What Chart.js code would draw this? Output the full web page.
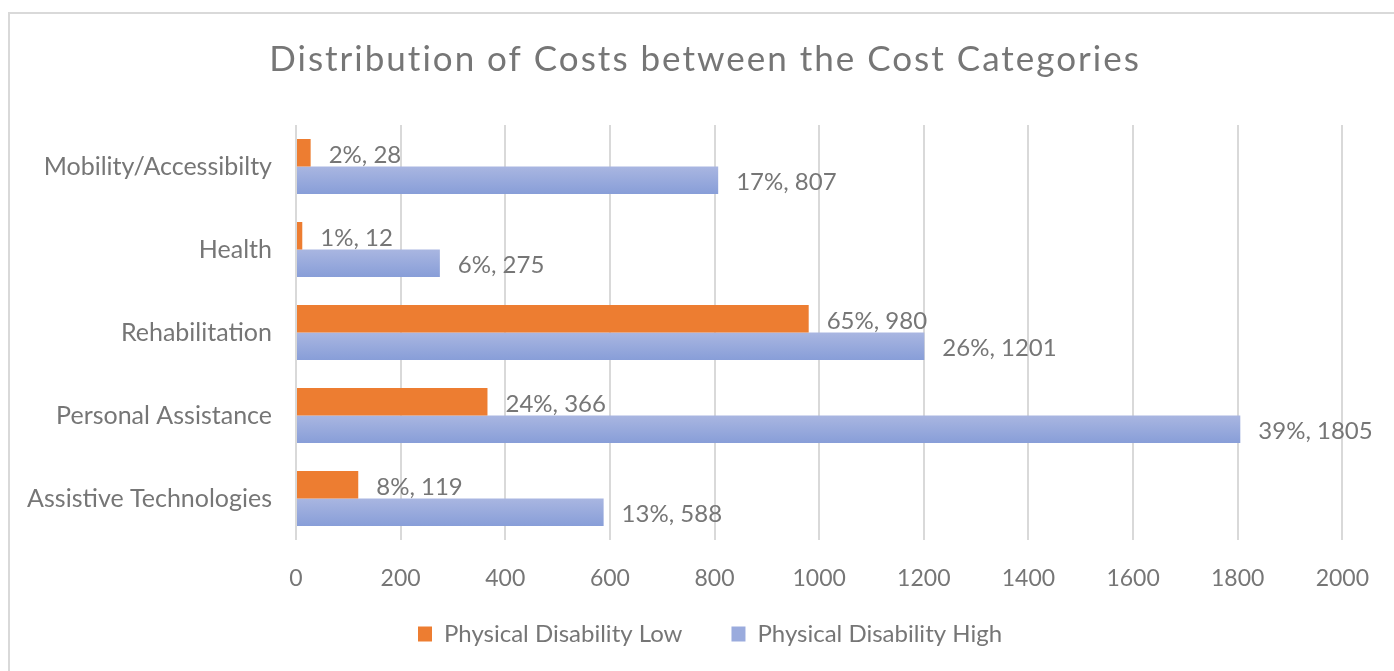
<!DOCTYPE html>
<html>
<head>
<meta charset="utf-8">
<script src="https://cdn.jsdelivr.net/npm/chart.js@4.4.1/dist/chart.umd.min.js"></script>
<style>
  html, body { margin: 0; padding: 0; background: #fff; }
  #wrap { position: relative; width: 1394px; height: 671px; }
  #frame { position: absolute; left: 8px; top: 12px; right: 0; bottom: 0; border-top: 2px solid #d9d9d9; border-left: 2px solid #d9d9d9; }
  canvas { position: absolute; left: 0; top: 0; }
</style>
</head>
<body>
<div id="wrap">
  <div id="frame"></div>
  <canvas id="c" width="1394" height="671"></canvas>
</div>
<script>
const chartTitle = 'Distribution of Costs between the Cost Categories';
const categories = ['Mobility/Accessibilty', 'Health', 'Rehabilitation', 'Personal Assistance', 'Assistive Technologies'];
const lowValues = [28, 12, 980, 366, 119];
const lowPercents = [2, 1, 65, 24, 8];
const highValues = [807, 275, 1201, 1805, 588];
const highPercents = [17, 6, 26, 39, 13];
const seriesNames = ['Physical Disability Low', 'Physical Disability High'];
const xTicks = [0, 200, 400, 600, 800, 1000, 1200, 1400, 1600, 1800, 2000];

const TEXT = '#767676';
const FONT = 'Lato';
const CAT_PCT = 0.66;

function blueGradient(ctx) {
  const chart = ctx.chart;
  const y = chart.scales && chart.scales.y;
  if (!y || !chart.chartArea || ctx.dataIndex === undefined) return '#9aabdd';
  const center = y.getPixelForValue(ctx.dataIndex);
  const band = y.height / categories.length;
  const barH = band * CAT_PCT / 2;
  const g = chart.ctx.createLinearGradient(0, center, 0, center + barH);
  g.addColorStop(0, '#a9b6e1');
  g.addColorStop(1, '#889ed8');
  return g;
}

const labelPlugin = {
  id: 'barLabels',
  afterDatasetsDraw(chart) {
    const ctx = chart.ctx;
    ctx.save();
    ctx.font = '24px ' + FONT;
    ctx.fillStyle = TEXT;
    ctx.textBaseline = 'middle';
    ctx.textAlign = 'left';
    const pcts = [lowPercents, highPercents];
    chart.data.datasets.forEach((ds, di) => {
      const meta = chart.getDatasetMeta(di);
      meta.data.forEach((bar, i) => {
        ctx.fillText(pcts[di][i] + '%, ' + ds.data[i], bar.x + 18, bar.y + 2);
      });
    });
    ctx.restore();
  }
};

const titlePlugin = {
  id: 'wideTitle',
  afterDraw(chart) {
    const ctx = chart.ctx;
    ctx.save();
    ctx.font = '35px ' + FONT;
    try { ctx.letterSpacing = '2px'; } catch (e) {}
    ctx.fillStyle = TEXT;
    ctx.textBaseline = 'middle';
    ctx.textAlign = 'center';
    ctx.fillText(chartTitle, 705, 60);
    ctx.restore();
  }
};

const legendPlacer = {
  id: 'legendPlacer',
  afterLayout(chart) {
    const lg = chart.legend;
    if (!lg) return;
    const h = lg.height;
    lg.left = 72;
    lg.right = 1348;
    lg.top = 573;
    lg.bottom = 573 + h;
  }
};

new Chart(document.getElementById('c'), {
  type: 'bar',
  data: {
    labels: categories,
    datasets: [
      { label: seriesNames[0], data: lowValues, backgroundColor: '#ed7d31', borderWidth: 0 },
      { label: seriesNames[1], data: highValues, backgroundColor: blueGradient, borderWidth: 0 }
    ]
  },
  options: {
    indexAxis: 'y',
    responsive: false,
    animation: false,
    events: [],
    categoryPercentage: CAT_PCT,
    barPercentage: 1,
    layout: { padding: { left: 20, right: 43, top: 125, bottom: 0 } },
    scales: {
      x: {
        min: 0, max: 2000,
        afterBuildTicks(scale) { scale.ticks = xTicks.map(v => ({ value: v })); },
        afterFit(scale) { scale.height = 48; },
        grid: { color: '#d9d9d9', lineWidth: 2, drawTicks: false },
        border: { display: false },
        ticks: { color: TEXT, font: { family: FONT, size: 23 }, padding: 25, maxRotation: 0,
                 callback: (v) => String(v) }
      },
      y: {
        afterFit(scale) { scale.width = 296 - 20; },
        grid: { display: false, drawTicks: false },
        border: { display: false },
        ticks: { color: TEXT, font: { family: FONT, size: 25 }, padding: 24 }
      }
    },
    plugins: {
      title: { display: false },
      legend: {
        position: 'bottom',
        labels: {
          color: TEXT,
          font: { family: FONT, size: 24 },
          boxWidth: 14,
          boxHeight: 15,
          padding: 49,
          generateLabels(chart) {
            const items = Chart.defaults.plugins.legend.labels.generateLabels(chart);
            const fills = ['#ed7d31', '#9aabdd'];
            items.forEach((it, i) => { it.fillStyle = fills[i]; it.strokeStyle = fills[i]; it.lineWidth = 0; });
            return items;
          }
        }
      },
      tooltip: { enabled: false }
    }
  },
  plugins: [labelPlugin, titlePlugin, legendPlacer]
});
</script>
</body>
</html>
